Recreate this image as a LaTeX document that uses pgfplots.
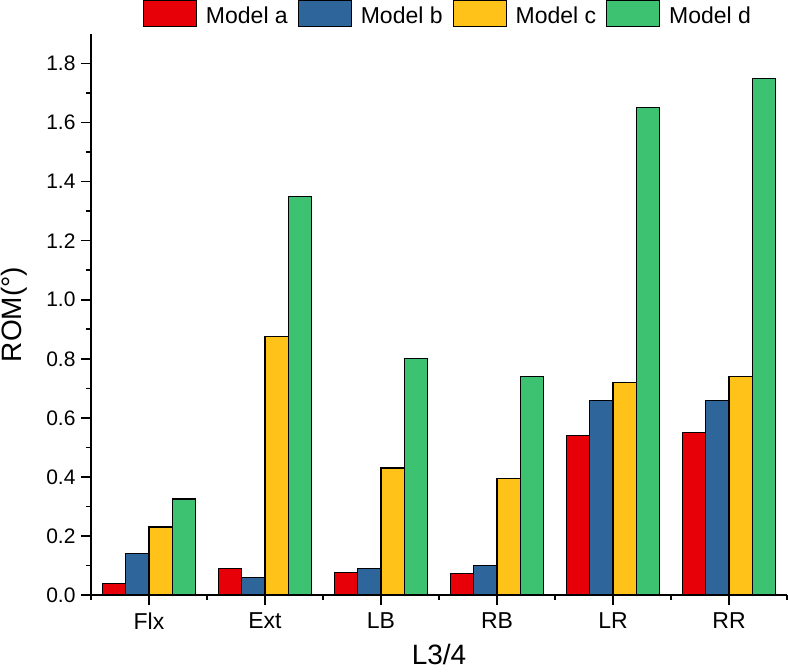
\documentclass[border=0pt]{standalone}
\usepackage{fontspec}
\setmainfont{Liberation Sans}
\usepackage{pgfplots}
\pgfplotsset{compat=1.18}
\definecolor{ma}{RGB}{232,0,8}
\definecolor{mb}{RGB}{46,101,155}
\definecolor{mc}{RGB}{255,194,24}
\definecolor{md}{RGB}{60,194,112}
\begin{document}
\begin{tikzpicture}
\begin{axis}[
  scale only axis, width=696pt, height=561pt,
  xmin=-0.5, xmax=5.5, ymin=0, ymax=1.9,
  axis x line*=bottom, axis y line*=left,
  axis line style={-, line width=1.6pt},
  ybar=0pt, bar width=0.2,
  xtick={0,1,2,3,4,5},
  xticklabels={Flx,Ext,LB,RB,LR,RR},
  minor xtick={-0.5,0.5,1.5,2.5,3.5,4.5,5.5},
  ytick={0,0.2,0.4,0.6,0.8,1.0,1.2,1.4,1.6,1.8},
  minor ytick={0.1,0.3,0.5,0.7,0.9,1.1,1.3,1.5,1.7},
  tick align=outside,
  major tick length=10pt, minor tick length=5pt,
  every tick/.style={black, line width=1.6pt},
  y tick label style={/pgf/number format/fixed, /pgf/number format/fixed zerofill, /pgf/number format/precision=1},
  /pgf/number format/assume math mode=true,
  ticklabel style={font=\fontsize{21}{24}\selectfont},
  xticklabel style={font=\fontsize{23}{26}\selectfont, /tikz/yshift=-4pt},
  yticklabel style={/tikz/xshift=-2pt},
  xlabel={L3/4}, ylabel={ROM(°)},
  label style={font=\fontsize{28}{32}\selectfont},
  xlabel style={yshift=-8pt},
  ylabel style={yshift=12pt},
  legend columns=4,
  legend style={draw=none, fill=none, at={(0.0747,1.0606)}, anchor=north west,
    font=\fontsize{23}{26}\selectfont,
    /tikz/every odd column/.append style={column sep=7pt},
    /tikz/every even column/.append style={column sep=8pt},
    inner sep=0pt, outer sep=0pt},
  legend image code/.code={\draw[#1, draw=black, line width=1pt] (0pt,-11pt) rectangle (53pt,15pt);},
  every axis plot/.append style={draw=black, line width=1.2pt},
]
\addplot[fill=ma, bar shift=-0.3] coordinates {(0,0.04) (1,0.09) (2,0.075) (3,0.072) (4,0.54) (5,0.55)};
\addplot[fill=mb, bar shift=-0.1] coordinates {(0,0.14) (1,0.06) (2,0.09) (3,0.10) (4,0.66) (5,0.66)};
\addplot[fill=mc, bar shift=0.1] coordinates {(0,0.23) (1,0.875) (2,0.43) (3,0.395) (4,0.72) (5,0.74)};
\addplot[fill=md, bar shift=0.3] coordinates {(0,0.325) (1,1.35) (2,0.80) (3,0.74) (4,1.65) (5,1.75)};
\legend{Model a, Model b, Model c, Model d}
\end{axis}
\pgfresetboundingbox
\path ([shift={(-91pt,-76pt)}]current axis.south west) rectangle ([shift={(1pt,34pt)}]current axis.north east);
\end{tikzpicture}
\end{document}
